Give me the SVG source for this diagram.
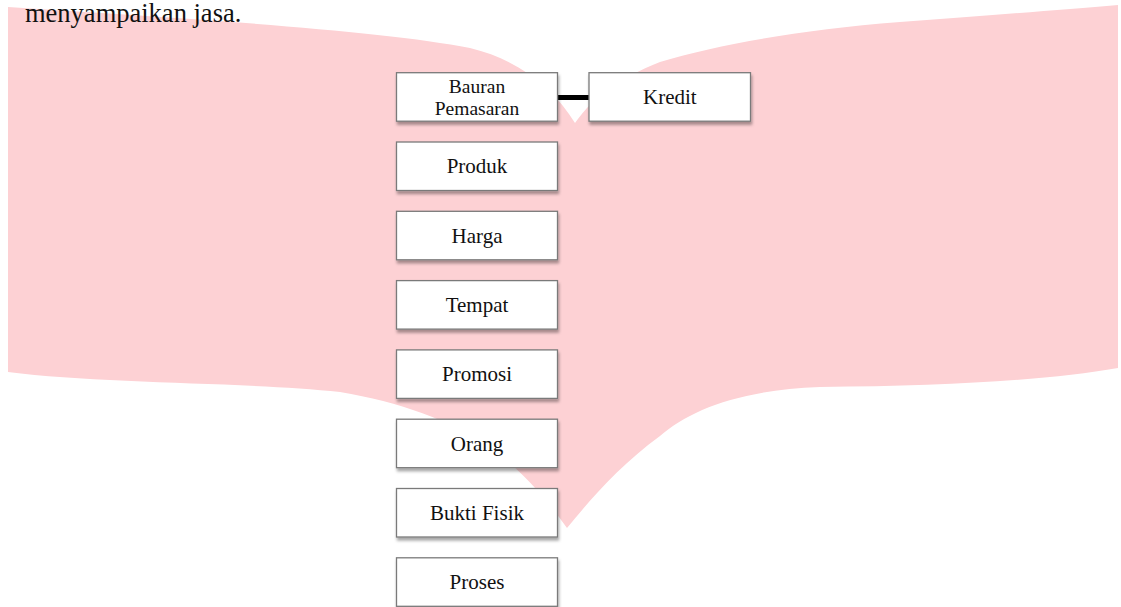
<svg xmlns="http://www.w3.org/2000/svg" width="1121" height="607" viewBox="0 0 1121 607">
<defs>
<style>
.bg{fill:#fdd1d4}
.box{fill:#ffffff;stroke:#7a7a7a;stroke-width:1.3;filter:url(#sh)}
.lbl{font-family:"Liberation Serif","Times New Roman",serif;font-size:21px;fill:#111;text-anchor:middle}
.lbl2{font-family:"Liberation Serif","Times New Roman",serif;font-size:19.5px;fill:#111;text-anchor:middle}
.body{font-family:"Liberation Serif","Times New Roman",serif;font-size:26.5px;fill:#111}
.conn{stroke:#000;stroke-width:5;fill:none}
</style>
<filter id="sh" x="-10%" y="-20%" width="120%" height="150%">
<feDropShadow dx="1" dy="3" stdDeviation="1.6" flood-color="#000" flood-opacity="0.35"/>
</filter>
</defs>
<rect width="1121" height="607" fill="#ffffff"/>
<path class="bg" d="M8,7 C180,18 380,30 470,48 C520,60 555,90 575,123 C595,95 620,78 660,62 C720,44 800,30 900,22 C980,16 1060,10 1118,5 L1118,368 C1050,380 950,386 820,387 C740,390 690,410 660,436 C620,465 590,500 567,528 C540,490 515,465 490,448 C450,420 400,402 340,392 C250,382 100,384 8,372 Z"/>
<text class="body" x="25" y="22">menyampaikan jasa.</text>
<g id="connectors">
<line class="conn" x1="557.5" y1="97.5" x2="589" y2="97.5"/>
</g>
<g id="bauran"><rect class="box" x="396.5" y="72.7" width="161" height="48.5"/><text class="lbl2" x="477" y="93">Bauran</text><text class="lbl2" x="477" y="115">Pemasaran</text></g>
<g id="kredit"><rect class="box" x="589" y="72.7" width="161.5" height="48.5"/><text class="lbl" x="669.8" y="104">Kredit</text></g>
<g id="produk"><rect class="box" x="396.5" y="142" width="161" height="48.5"/><text class="lbl" x="477" y="173.3">Produk</text></g>
<g id="harga"><rect class="box" x="396.5" y="211.3" width="161" height="48.5"/><text class="lbl" x="477" y="242.6">Harga</text></g>
<g id="tempat"><rect class="box" x="396.5" y="280.6" width="161" height="48.5"/><text class="lbl" x="477" y="311.9">Tempat</text></g>
<g id="promosi"><rect class="box" x="396.5" y="349.9" width="161" height="48.5"/><text class="lbl" x="477" y="381.2">Promosi</text></g>
<g id="orang"><rect class="box" x="396.5" y="419.2" width="161" height="48.5"/><text class="lbl" x="477" y="450.5">Orang</text></g>
<g id="bukti"><rect class="box" x="396.5" y="488.5" width="161" height="48.5"/><text class="lbl" x="477" y="519.8">Bukti Fisik</text></g>
<g id="proses"><rect class="box" x="396.5" y="557.8" width="161" height="48.5"/><text class="lbl" x="477" y="589.1">Proses</text></g>
</svg>
